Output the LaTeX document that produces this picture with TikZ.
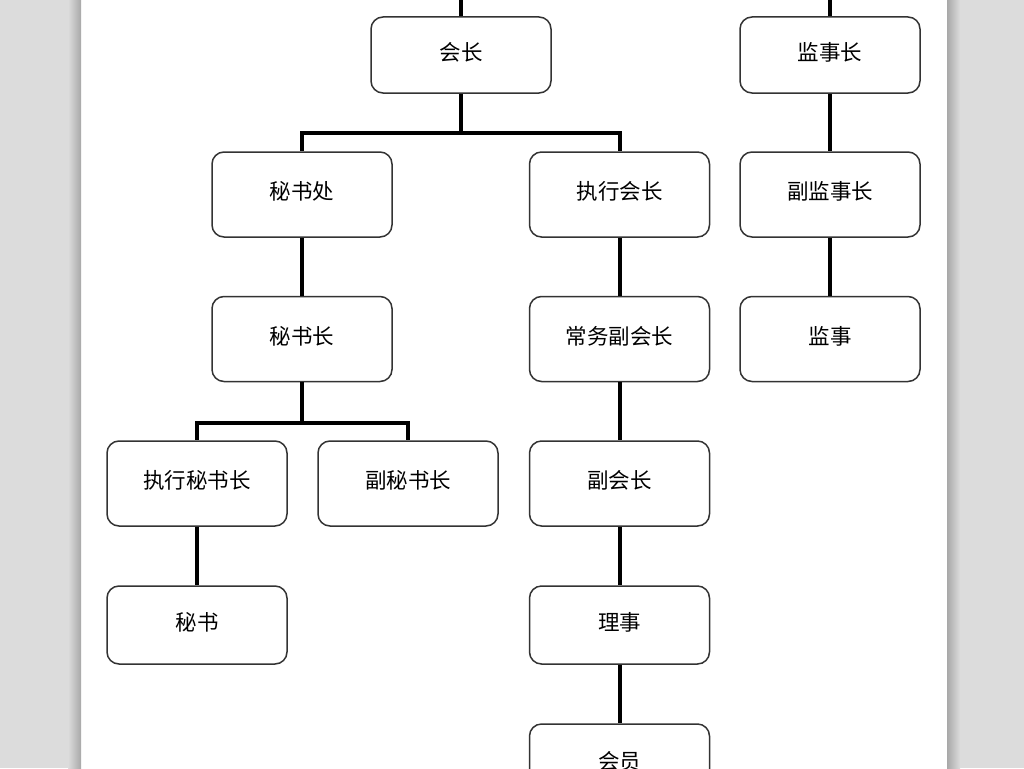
\documentclass[tikz,border=0pt]{standalone}
\usepackage{fontspec}
\newfontfamily\cjk{Noto Sans CJK SC}
\definecolor{sidegray}{HTML}{DCDCDC}
\definecolor{edgegray}{HTML}{A8A8A8}
\definecolor{boxline}{HTML}{333333}
\begin{document}
\begin{tikzpicture}[x=1pt,y=-1pt,line cap=butt,line join=miter,
  orgbox/.style={draw=boxline,line width=1.5pt,fill=white,rounded corners=12pt,
    minimum width=180pt,minimum height=85pt,inner sep=0pt,
    text height=15pt,text depth=5pt,
    font=\cjk\fontsize{21.5}{25}\selectfont},
  link/.style={line width=4pt,black}]
  \useasboundingbox (0,0) rectangle (1024,768);
  \fill[white] (0,0) rectangle (1024,768);
  % page margins
  \fill[sidegray] (0,0) rectangle (68,768);
  \shade[left color=sidegray,right color=edgegray] (68,0) rectangle (81,768);
  \shade[left color=edgegray,right color=sidegray] (947,0) rectangle (960,768);
  \fill[sidegray] (960,0) rectangle (1024,768);
  % boxes
  \node[orgbox,minimum height=76pt] (hz) at (461,55) {会长};
  \node[orgbox,minimum height=76pt] (jsz) at (830,55) {监事长};
  \node[orgbox] (msc) at (302,194.5) {秘书处};
  \node[orgbox] (zxhz) at (619.5,194.5) {执行会长};
  \node[orgbox] (fjsz) at (830,194.5) {副监事长};
  \node[orgbox] (msz) at (302,339) {秘书长};
  \node[orgbox] (cwfhz) at (619.5,339) {常务副会长};
  \node[orgbox] (js) at (830,339) {监事};
  \node[orgbox] (zxmsz) at (197,483.5) {执行秘书长};
  \node[orgbox] (fmsz) at (408,483.5) {副秘书长};
  \node[orgbox] (fhz) at (619.5,483.5) {副会长};
  \node[orgbox,minimum height=78pt] (ms) at (197,625) {秘书};
  \node[orgbox,minimum height=78pt] (ls) at (619.5,625) {理事};
  \node[orgbox,minimum height=80pt] (hy) at (619.5,764) {会员};
  % connectors
  \coordinate (top1) at (461,0);
  \coordinate (top2) at (830,0);
  \coordinate (bar1) at (461,133);
  \coordinate (bar2) at (302,423);
  \draw[link] (top1) -- (hz.north);
  \draw[link] (top2) -- (jsz.north);
  \draw[link] (hz.south) -- (bar1) -| (msc.north);
  \draw[link] (bar1) -| (zxhz.north);
  \draw[link] (msc) -- (msz);
  \draw[link] (msz.south) -- (bar2) -| (zxmsz.north);
  \draw[link] (bar2) -| (fmsz.north);
  \draw[link] (zxmsz) -- (ms);
  \draw[link] (zxhz) -- (cwfhz);
  \draw[link] (cwfhz) -- (fhz);
  \draw[link] (fhz) -- (ls);
  \draw[link] (ls) -- (hy);
  \draw[link] (jsz) -- (fjsz);
  \draw[link] (fjsz) -- (js);
\end{tikzpicture}
\end{document}
